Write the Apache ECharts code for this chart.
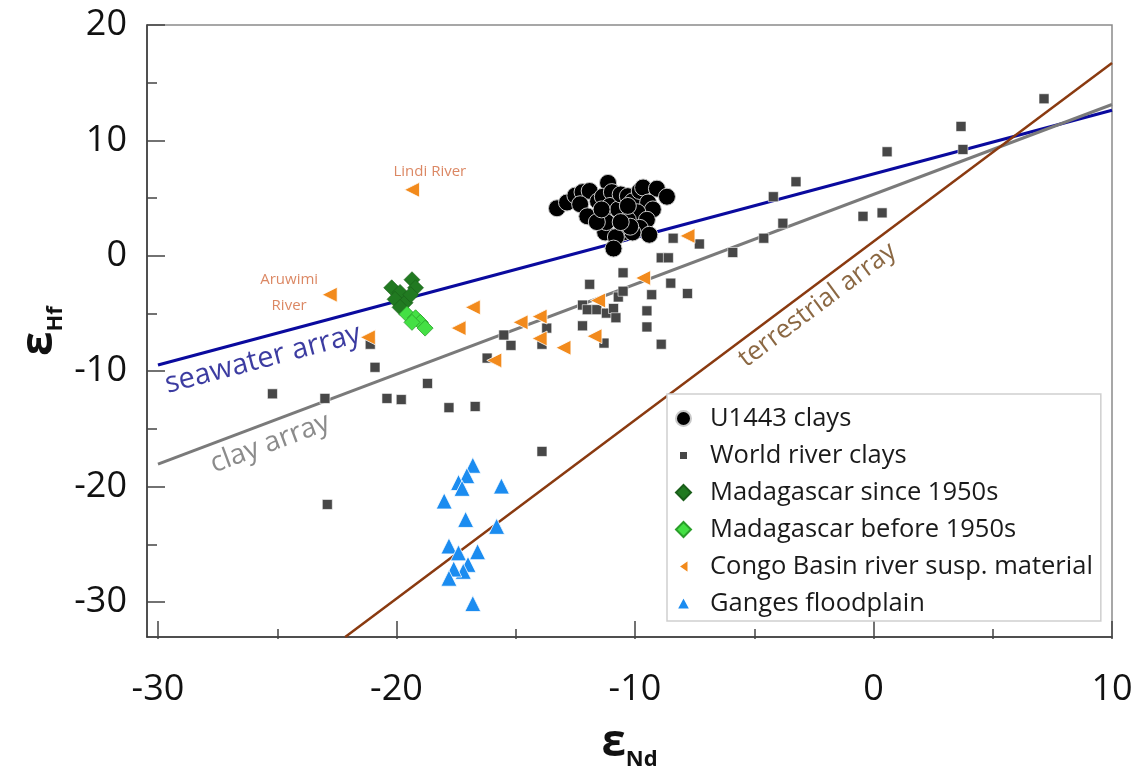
<!DOCTYPE html>
<html>
<head>
<meta charset="utf-8">
<script src="https://cdn.jsdelivr.net/npm/echarts@6/dist/echarts.min.js"></script>
<style>
  html, body { margin: 0; padding: 0; background: #fff; }
  #chart { width: 1143px; height: 783px; }
</style>
</head>
<body>
<div id="chart"></div>
<script>
const FONT = '"Open Sans", sans-serif';

// U1443 clays
const u1443Nd = [-11.13, -13.27, -12.85, -12.5, -12.2, -11.9, -12.3, -12.0, -11.55, -11.35, -10.97, -11.05, -10.7, -10.6, -10.3, -10.1, -9.8, -9.66, -9.08, -8.66, -9.45, -9.25, -9.9, -10.3, -9.5, -9.8, -10.5, -11.25, -10.8, -9.4, -10.1, -10.9, -10.2, -11.2, -10.6, -11.6, -10.3, -11.4];
const u1443Hf = [6.3, 4.1, 4.6, 5.2, 5.5, 5.6, 4.45, 3.4, 4.7, 5.1, 5.5, 4.3, 4.0, 5.3, 5.15, 4.7, 5.6, 5.9, 5.8, 5.1, 4.6, 4.0, 3.75, 3.1, 3.1, 2.4, 2.0, 2.0, 1.6, 1.8, 2.0, 0.6, 2.5, 2.9, 2.9, 2.9, 4.3, 4.0];

// World river clays
const worldNd = [-25.2, -23.0, -22.9, -21.1, -20.9, -20.4, -19.8, -18.7, -17.8, -16.7, -13.9, -16.2, -15.5, -15.2, -13.7, -13.9, -11.9, -12.2, -12.2, -12.0, -11.6, -11.2, -10.9, -10.8, -10.7, -10.5, -10.5, -11.3, -9.5, -9.5, -9.3, -8.9, -8.5, -7.8, -8.9, -8.6, -8.4, -7.3, -5.9, -4.6, -3.8, -4.2, -3.25, -0.44, 0.36, 0.57, 3.67, 3.75, 7.15];
const worldHf = [-12.0, -12.4, -21.6, -7.7, -9.7, -12.4, -12.5, -11.1, -13.2, -13.1, -17.0, -8.9, -6.9, -7.8, -6.3, -7.7, -2.5, -4.3, -6.1, -4.7, -4.7, -5.0, -4.6, -5.4, -3.6, -3.1, -1.5, -7.6, -4.8, -6.2, -3.4, -7.7, -2.4, -3.3, -0.2, -0.2, 1.5, 1.0, 0.26, 1.5, 2.8, 5.1, 6.4, 3.4, 3.7, 9.0, 11.2, 9.2, 13.6];

// Madagascar
const madNewNd = [-20.2, -19.85, -19.35, -19.2, -20.06, -19.64, -19.4, -19.85];
const madNewHf = [-2.8, -3.2, -2.1, -2.8, -3.8, -4.1, -3.4, -4.5];
const madOldNd = [-19.56, -19.2, -19.0, -18.8, -19.35];
const madOldHf = [-5.1, -5.4, -5.8, -6.3, -5.8];

// Congo Basin river suspended material
const congoNd = [-19.35, -22.8, -21.2, -16.8, -17.4, -15.9, -14.8, -14.0, -14.0, -13.0, -11.7, -11.55, -9.66, -7.8];
const congoHf = [5.7, -3.4, -7.1, -4.5, -6.3, -9.1, -5.8, -5.3, -7.2, -8.0, -7.0, -3.9, -1.95, 1.7];

// Ganges floodplain
const gangesNd = [-16.8, -17.05, -17.4, -17.25, -15.6, -18.0, -17.1, -15.8, -17.8, -16.6, -17.4, -17.0, -17.2, -17.6, -17.8, -16.8];
const gangesHf = [-18.2, -19.1, -19.7, -20.2, -20.0, -21.3, -22.9, -23.5, -25.2, -25.7, -25.8, -26.8, -27.4, -27.2, -28.0, -30.2];

// reference arrays (end points)
const seawaterNd = [-30, 10];
const seawaterHf = [-9.5, 12.6];
const clayNd = [-30, 10];
const clayHf = [-18.1, 13.1];
const terrNd = [-22.15, 10];
const terrHf = [-33.1, 16.7];

// text notes
const noteText = ['seawater array', 'clay array', 'terrestrial array', 'Lindi River', 'Aruwimi\nRiver'];
const noteNd = [-25.6, -25.3, -2.35, -18.6, -24.5];
const noteHf = [-9.0, -16.3, -4.3, 7.3, -3.2];

const xTicks = [-30, 10];
const yTicks = [-30, 20];

const noteStyle = [
  { color: '#0b0b8a', fontSize: 29, rotate: 14.8 },
  { color: '#6e6e6e', fontSize: 28, rotate: 20.5 },
  { color: '#6e4214', fontSize: 26, rotate: 36.8 },
  { color: '#d2693c', fontSize: 15, rotate: 0 },
  { color: '#d2693c', fontSize: 15, rotate: 0, lineHeight: 26 }
];

// legend icons (padded so the marks keep their relative size)
const ICON_SQUARE = 'path://M0,0 M15,15 M3,3 L12,3 L12,12 L3,12 Z';
const ICON_LEFT = 'path://M0,0 M15,15 M12.5,0.5 L12.5,14.5 L2.5,7.5 Z';
const ICON_UP = 'path://M0,0 M15,15 M7.5,0.5 L14.5,13.5 L0.5,13.5 Z';

function pts(xs, ys) {
  return xs.map((x, i) => [x, ys[i]]);
}

const chart = echarts.init(document.getElementById('chart'));

function lineSeries(name, xs, ys, color, width) {
  return {
    name: name, type: 'line', xAxisIndex: 0, yAxisIndex: 0,
    data: pts(xs, ys), symbol: 'none', silent: true, z: 1,
    lineStyle: { color: color, width: width }
  };
}

const tickStyle = { color: '#444', width: 1.5 };
const labelStyle = { fontFamily: FONT, fontSize: 36, color: '#111' };
const nameRich = {
  e: { fontFamily: FONT, fontSize: 44, fontWeight: 'bold', color: '#111', verticalAlign: 'top' },
  s: { fontFamily: FONT, fontSize: 22, fontWeight: 'bold', color: '#111', verticalAlign: 'top', padding: [28, 0, 0, 0] }
};

const option = {
  animation: false,
  backgroundColor: '#fff',
  grid: [
    { left: 147, right: 31, top: 25, bottom: 146, show: true, borderColor: '#8a8a8a', borderWidth: 1.5 },
    { left: 158, right: 31, top: 25, bottom: 181 }
  ],
  xAxis: [
    {
      type: 'value', gridIndex: 0, min: -30.46, max: xTicks[1],
      axisLine: { show: true, onZero: false, lineStyle: { color: '#333', width: 1.5 } },
      axisTick: { show: false }, axisLabel: { show: false }, splitLine: { show: false },
      name: '{e|ε}{s|Nd}', nameLocation: 'middle', nameGap: 84,
      nameTextStyle: { rich: nameRich }
    },
    {
      type: 'value', gridIndex: 1, min: xTicks[0], max: xTicks[1], interval: 10, offset: 37,
      axisLine: { show: false, onZero: false },
      axisTick: { show: true, inside: true, length: 18, lineStyle: tickStyle },
      minorTick: { show: true, splitNumber: 2, length: 10, lineStyle: tickStyle },
      axisLabel: Object.assign({ margin: 33 }, labelStyle),
      splitLine: { show: false }
    }
  ],
  yAxis: [
    {
      type: 'value', gridIndex: 0, min: -33.1, max: yTicks[1],
      axisLine: { show: true, onZero: false, lineStyle: { color: '#333', width: 1.5 } },
      axisTick: { show: false }, axisLabel: { show: false }, splitLine: { show: false },
      name: '{e|ε}{s|Hf}', nameLocation: 'middle', nameGap: 80, nameRotate: 90,
      nameTextStyle: { rich: nameRich }
    },
    {
      type: 'value', gridIndex: 1, min: yTicks[0], max: yTicks[1], interval: 10, offset: 11,
      axisLine: { show: false, onZero: false },
      axisTick: { show: true, inside: true, length: 18, lineStyle: tickStyle },
      minorTick: { show: true, splitNumber: 2, length: 10, lineStyle: tickStyle },
      axisLabel: Object.assign({ margin: 20 }, labelStyle),
      splitLine: { show: false }
    }
  ],
  legend: {
    orient: 'vertical', left: 667, top: 394,
    padding: [11, 8, 4, 8],
    itemWidth: 15, itemHeight: 15, itemGap: 10,
    borderColor: '#cfcfcf', borderWidth: 1.5,
    backgroundColor: '#fff',
    textStyle: { fontFamily: FONT, fontSize: 25.5, color: '#1a1a1a', lineHeight: 27, padding: [0, 0, 0, 14] },
    data: [
      { name: 'U1443 clays', icon: 'circle' },
      { name: 'World river clays', icon: ICON_SQUARE },
      { name: 'Madagascar since 1950s', icon: 'diamond' },
      { name: 'Madagascar before 1950s', icon: 'diamond' },
      { name: 'Congo Basin river susp. material', icon: ICON_LEFT },
      { name: 'Ganges floodplain', icon: ICON_UP }
    ]
  },
  series: [
    lineSeries('seawater array', seawaterNd, seawaterHf, '#0a0a9e', 3),
    lineSeries('clay array', clayNd, clayHf, '#7a7a7a', 3),
    lineSeries('terrestrial array', terrNd, terrHf, '#8a3a10', 2.5),
    {
      name: 'World river clays', type: 'scatter', data: pts(worldNd, worldHf),
      symbol: 'rect', symbolSize: 10, z: 3,
      itemStyle: { color: '#474747', opacity: 1, borderColor: '#fff', borderWidth: 0.6 }
    },
    {
      name: 'Congo Basin river susp. material', type: 'scatter', data: pts(congoNd, congoHf),
      symbol: 'triangle', symbolRotate: 90, symbolSize: 15, z: 4,
      itemStyle: { color: '#f28a1c', opacity: 1, borderColor: '#fff', borderWidth: 0.8 }
    },
    {
      name: 'Ganges floodplain', type: 'scatter', data: pts(gangesNd, gangesHf),
      symbol: 'triangle', symbolSize: 16, z: 4,
      itemStyle: { color: '#1b8cf0', opacity: 1, borderColor: '#fff', borderWidth: 0.8 }
    },
    {
      name: 'Madagascar since 1950s', type: 'scatter', data: pts(madNewNd, madNewHf),
      symbol: 'diamond', symbolSize: 16, z: 5,
      itemStyle: { color: '#217a21', opacity: 1, borderColor: '#1a5e1a', borderWidth: 0.6 }
    },
    {
      name: 'Madagascar before 1950s', type: 'scatter', data: pts(madOldNd, madOldHf),
      symbol: 'diamond', symbolSize: 16, z: 5,
      itemStyle: { color: '#44e044', opacity: 1, borderColor: '#2a9e2a', borderWidth: 0.8 }
    },
    {
      name: 'U1443 clays', type: 'scatter', data: pts(u1443Nd, u1443Hf),
      symbol: 'circle', symbolSize: 17, z: 6,
      itemStyle: { color: '#000', opacity: 1, borderColor: '#c8c8c8', borderWidth: 1 }
    },
    {
      name: 'notes', type: 'scatter', silent: true, symbolSize: 0, z: 7,
      data: noteText.map((t, i) => ({
        value: [noteNd[i], noteHf[i]],
        label: Object.assign({ show: true, position: 'inside', formatter: t, fontFamily: FONT, align: 'center', verticalAlign: 'middle' }, noteStyle[i])
      }))
    }
  ]
};

chart.setOption(option);
</script>
</body>
</html>
